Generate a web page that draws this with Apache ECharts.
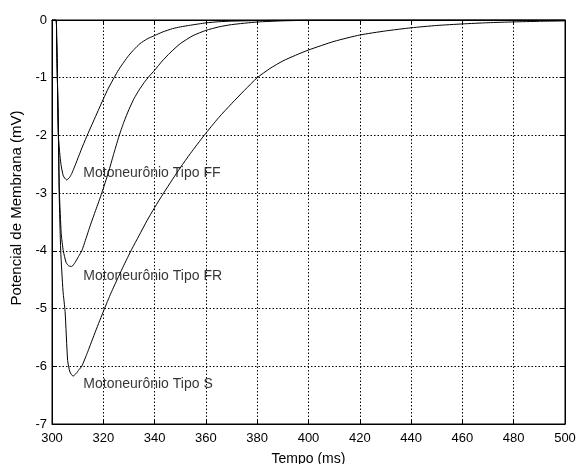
<!DOCTYPE html>
<html>
<head>
<meta charset="utf-8">
<script src="https://cdn.jsdelivr.net/npm/echarts@6/dist/echarts.min.js"></script>
<style>
html,body{margin:0;padding:0;background:#fff;}
#chart{width:576px;height:464px;}
</style>
</head>
<body>
<div id="chart"></div>
<script>
// Tipo FF
const tFF = [300, 301.6, 301.8, 302.1, 302.5, 303.0, 303.5, 304.4, 305.7, 306.8, 307.7, 309, 310.5, 312, 314, 316, 318, 320, 322, 324.2, 326, 328, 330, 332, 334.3, 337, 340, 343, 347, 350, 354, 360, 365, 370, 380, 400, 500];
const vFF = [0, 0, -0.3, -1.0, -2.0, -2.3, -2.5, -2.7, -2.77, -2.73, -2.66, -2.52, -2.35, -2.18, -1.97, -1.77, -1.57, -1.37, -1.18, -1.0, -0.86, -0.73, -0.61, -0.51, -0.41, -0.33, -0.27, -0.21, -0.15, -0.12, -0.09, -0.05, -0.03, -0.02, -0.01, 0, 0];
// Tipo FR
const tFR = [300, 301.6, 301.8, 302.1, 302.5, 302.9, 303.6, 304.4, 305.5, 306.5, 307.7, 309, 310.3, 311.6, 313, 315, 317, 319.4, 322, 324, 326, 328, 330, 332, 334, 336, 338, 340, 343, 346, 350, 355, 360, 365, 370, 380, 390, 400, 500];
const vFR = [0, 0, -0.3, -1.0, -2.0, -3.0, -3.7, -4.0, -4.2, -4.26, -4.27, -4.2, -4.1, -4.0, -3.82, -3.55, -3.3, -3.0, -2.64, -2.33, -2.03, -1.77, -1.55, -1.36, -1.21, -1.08, -0.97, -0.87, -0.71, -0.57, -0.41, -0.27, -0.18, -0.12, -0.08, -0.035, -0.015, -0.005, 0];
// Tipo S
const tS = [300, 301.6, 301.8, 302.1, 302.5, 302.8, 303.4, 304.3, 305.1, 306.1, 307, 308.2, 309.5, 310.5, 311.6, 314, 317, 320.3, 323, 326, 328, 331, 334, 337, 340, 343.5, 347, 350, 354, 359.3, 365, 370, 375, 380, 385, 390, 395, 400, 410, 420, 430, 440, 450, 460, 470, 480, 490, 500];
const vS = [0, 0, -0.3, -1.0, -2.0, -3.0, -4.0, -4.7, -5.05, -5.9, -6.1, -6.17, -6.12, -6.06, -6.0, -5.74, -5.39, -5.02, -4.73, -4.44, -4.25, -3.98, -3.73, -3.48, -3.25, -3.0, -2.76, -2.56, -2.31, -2.0, -1.69, -1.45, -1.22, -1.0, -0.84, -0.71, -0.61, -0.52, -0.37, -0.26, -0.19, -0.135, -0.095, -0.068, -0.047, -0.033, -0.023, -0.016];
// annotations
const labelText = ['Motoneurônio Tipo FF', 'Motoneurônio Tipo FR', 'Motoneurônio Tipo S'];
const labelX = [312.2, 312.2, 312.2];
const labelY = [-2.65, -4.44, -6.31];
const xTicks = [300, 500, 20];
const yTicks = [-7, 0, 1];

const FONT = "'Liberation Sans', Arial, Helvetica, sans-serif";
const pairs = (t, v) => t.map((x, i) => [x, v[i]]);
const chart = echarts.init(document.getElementById('chart'), null, {renderer: 'canvas'});

const lineSeries = (name, t, v) => ({
  name, type: 'line', data: pairs(t, v), showSymbol: false, symbol: 'none',
  smooth: 0.2,
  lineStyle: {color: '#000', width: 1}, animation: false, z: 3
});

const baseX = {
  type: 'value', min: xTicks[0], max: xTicks[1], interval: xTicks[2],
  axisLine: {show: true, onZero: false, lineStyle: {color: '#000', width: 1}},
  axisTick: {show: true, inside: true, length: 4, lineStyle: {color: '#000'}},
};
const baseY = {
  type: 'value', min: yTicks[0], max: yTicks[1], interval: yTicks[2],
  axisLine: {show: true, onZero: false, lineStyle: {color: '#000', width: 1}},
  axisTick: {show: true, inside: true, length: 4, lineStyle: {color: '#000'}},
};

chart.setOption({
  animation: false,
  backgroundColor: '#fff',
  grid: {left: 52, right: 11, top: 20, bottom: 40, show: true, borderColor: '#000', borderWidth: 1,
         containLabel: false, outerBoundsMode: 'none'},
  xAxis: [
    Object.assign({}, baseX, {
      position: 'bottom',
      name: 'Tempo (ms)', nameLocation: 'middle', nameGap: 28,
      nameTextStyle: {color: '#000', fontSize: 14, fontFamily: FONT},
      axisLabel: {color: '#000', fontSize: 13, fontFamily: FONT, margin: 8},
      splitLine: {show: true, lineStyle: {color: '#000', width: 1, type: [1.5, 2]}}
    }),
    Object.assign({}, baseX, {
      position: 'top', axisLabel: {show: false}, splitLine: {show: false}
    })
  ],
  yAxis: [
    Object.assign({}, baseY, {
      position: 'left',
      axisLabel: {color: '#000', fontSize: 13, fontFamily: FONT, margin: 5},
      splitLine: {show: true, lineStyle: {color: '#000', width: 1, type: [1.5, 2]}}
    }),
    Object.assign({}, baseY, {
      position: 'right', axisLabel: {show: false}, splitLine: {show: false}
    })
  ],
  graphic: [{
    type: 'text', x: 17, y: 208, rotation: Math.PI / 2,
    style: {text: 'Potencial de Membrana (mV)', fill: '#000', font: '15px ' + FONT, textAlign: 'center', textVerticalAlign: 'middle'}
  }],
  series: [
    lineSeries('Tipo FF', tFF, vFF),
    lineSeries('Tipo FR', tFR, vFR),
    lineSeries('Tipo S', tS, vS),
    {
      type: 'scatter', symbolSize: 0, animation: false, z: 4,
      data: labelText.map((s, i) => ({name: s, value: [labelX[i], labelY[i]]})),
      label: {show: true, position: 'right', distance: 0, formatter: p => p.name, color: '#000', fontSize: 14, fontFamily: FONT},
      silent: true
    }
  ]
});
</script>
</body>
</html>
